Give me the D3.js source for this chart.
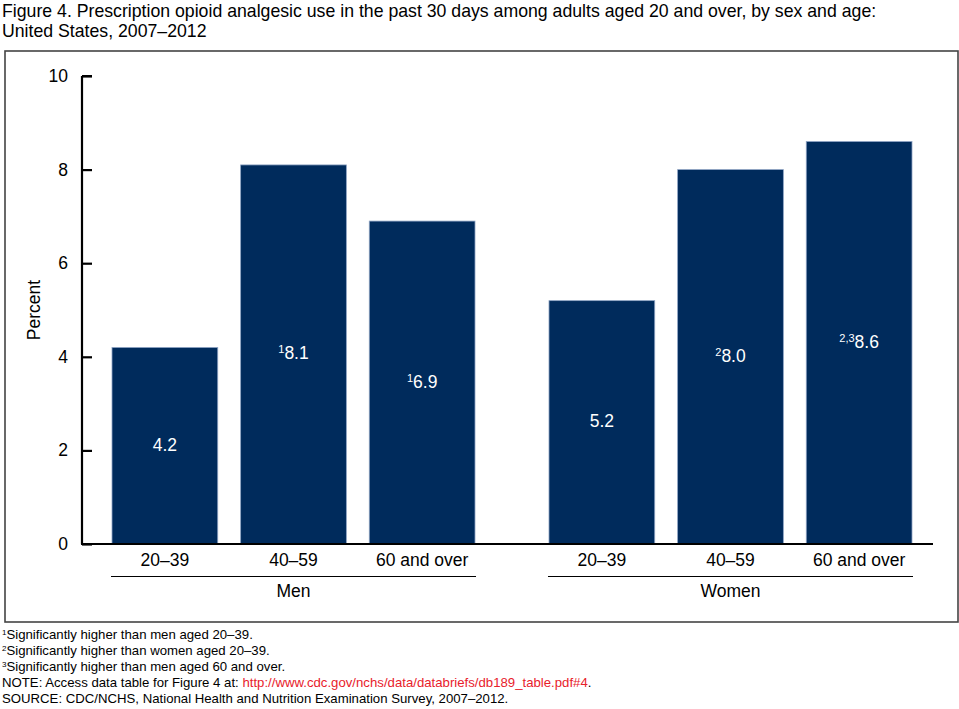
<!DOCTYPE html>
<html>
<head>
<title>Figure 4</title>
<style>
body {
  margin: 0;
  padding: 0;
  background: #fff;
  font-family: "Liberation Sans", Arial, sans-serif;
}
svg text { font-family: "Liberation Sans", Arial, sans-serif; }
</style>
<script src="https://d3js.org/d3.v7.min.js"></script>
</head>
<body>
<svg id="chart" width="959" height="709"></svg>
<script>
  // data
  const groups = ["Men", "Women"];
  const ages = ["20–39", "40–59", "60 and over"];
  const menValues = [4.2, 8.1, 6.9];
  const womenValues = [5.2, 8.0, 8.6];
  const menNotes = ["", "1", "1"];
  const womenNotes = ["", "2", "2,3"];
  const yTicks = [0, 2, 4, 6, 8, 10];

  const rows = [];
  ages.forEach((a, i) => rows.push({ group: "Men", age: a, value: menValues[i], note: menNotes[i] }));
  ages.forEach((a, i) => rows.push({ group: "Women", age: a, value: womenValues[i], note: womenNotes[i] }));

  const svg = d3.select("#chart");
  const barColor = "#002B5C";
  const fs = 17.5;

  // title
  const title = svg.append("text").attr("font-size", 17.7).attr("fill", "#000");
  title.append("tspan").attr("x", 2).attr("y", 17)
    .text("Figure 4. Prescription opioid analgesic use in the past 30 days among adults aged 20 and over, by sex and age:");
  title.append("tspan").attr("x", 2).attr("y", 37).text("United States, 2007–2012");

  // frame
  svg.append("rect")
    .attr("x", 5).attr("y", 51).attr("width", 953).attr("height", 571)
    .attr("fill", "none").attr("stroke", "#444").attr("stroke-width", 1.6);

  const y = d3.scaleLinear().domain([0, 10]).range([544, 76]);
  const xGroup = d3.scaleBand().domain(groups).range([112, 912]).paddingInner(0.1693).paddingOuter(0);
  const xAge = d3.scaleBand().domain(ages).range([0, xGroup.bandwidth()]).paddingInner(0.178).paddingOuter(0);

  // bars
  svg.append("g").selectAll("rect")
    .data(rows).enter().append("rect")
    .attr("x", d => xGroup(d.group) + xAge(d.age))
    .attr("y", d => y(d.value))
    .attr("width", xAge.bandwidth())
    .attr("height", d => y(0) - y(d.value))
    .attr("fill", barColor)
    .attr("stroke", "#8ea4c4")
    .attr("stroke-width", 0.8);

  // value labels
  const vl = svg.append("g").selectAll("text")
    .data(rows).enter().append("text")
    .attr("x", d => xGroup(d.group) + xAge(d.age) + xAge.bandwidth() / 2)
    .attr("y", d => (y(d.value) + y(0)) / 2 + 5)
    .attr("text-anchor", "middle")
    .attr("font-size", fs)
    .attr("fill", "#fff");
  vl.filter(d => d.note).append("tspan")
    .attr("font-size", 11).attr("dy", -6).text(d => d.note);
  vl.append("tspan")
    .attr("dy", d => d.note ? 6 : 0)
    .text(d => d.value.toFixed(1));

  // y axis
  const yAxis = d3.axisRight(y).tickValues(yTicks).tickSize(10).tickFormat("");
  const ga = svg.append("g").attr("transform", "translate(82,0)").call(yAxis);
  ga.select(".domain").attr("stroke", "#000").attr("stroke-width", 2.2)
    .attr("d", "M0," + y(10) + "H10M0," + y(10) + "V" + y(0));
  ga.selectAll(".tick line").attr("stroke", "#000").attr("stroke-width", 2.2);
  svg.append("g").selectAll("text").data(yTicks).enter().append("text")
    .attr("x", 68).attr("y", d => y(d) + 6)
    .attr("text-anchor", "end").attr("font-size", fs).text(d => d);

  svg.append("text")
    .attr("transform", "translate(40," + y(5) + ") rotate(-90)")
    .attr("text-anchor", "middle").attr("font-size", fs).text("Percent");

  // x axis line
  svg.append("line").attr("x1", 81).attr("x2", 933).attr("y1", y(0)).attr("y2", y(0))
    .attr("stroke", "#000").attr("stroke-width", 2.2);

  // category labels
  svg.append("g").selectAll("text")
    .data(rows).enter().append("text")
    .attr("x", d => xGroup(d.group) + xAge(d.age) + xAge.bandwidth() / 2)
    .attr("y", 566)
    .attr("text-anchor", "middle").attr("font-size", fs)
    .text(d => d.age);

  // group lines + labels
  const gg = svg.append("g").selectAll("g").data(groups).enter().append("g");
  gg.append("line")
    .attr("x1", d => xGroup(d) - 1).attr("x2", d => xGroup(d) + xGroup.bandwidth() + 1)
    .attr("y1", 576.5).attr("y2", 576.5)
    .attr("stroke", "#000").attr("stroke-width", 1.2);
  gg.append("text")
    .attr("x", d => xGroup(d) + xGroup.bandwidth() / 2)
    .attr("y", 597).attr("text-anchor", "middle").attr("font-size", fs)
    .text(d => d);

  // footnotes
  const notes = [
    [["1", true], ["Significantly higher than men aged 20–39.", false]],
    [["2", true], ["Significantly higher than women aged 20–39.", false]],
    [["3", true], ["Significantly higher than men aged 60 and over.", false]],
    [["NOTE: Access data table for Figure 4 at: ", false], ["http://www.cdc.gov/nchs/data/databriefs/db189_table.pdf#4", "link"], [".", false]],
    [["SOURCE: CDC/NCHS, National Health and Nutrition Examination Survey, 2007–2012.", false]]
  ];
  notes.forEach((parts, i) => {
    const t = svg.append("text").attr("x", 2).attr("y", 639 + i * 16).attr("font-size", 13.2);
    parts.forEach(p => {
      const s = t.append("tspan").text(p[0]);
      if (p[1] === true) s.attr("font-size", 8).attr("dy", -4);
      else if (t.selectAll("tspan").size() === 2 && parts[0][1] === true) s.attr("dy", 4);
      if (p[1] === "link") s.attr("fill", "#e8212b");
    });
  });
</script>
</body>
</html>
